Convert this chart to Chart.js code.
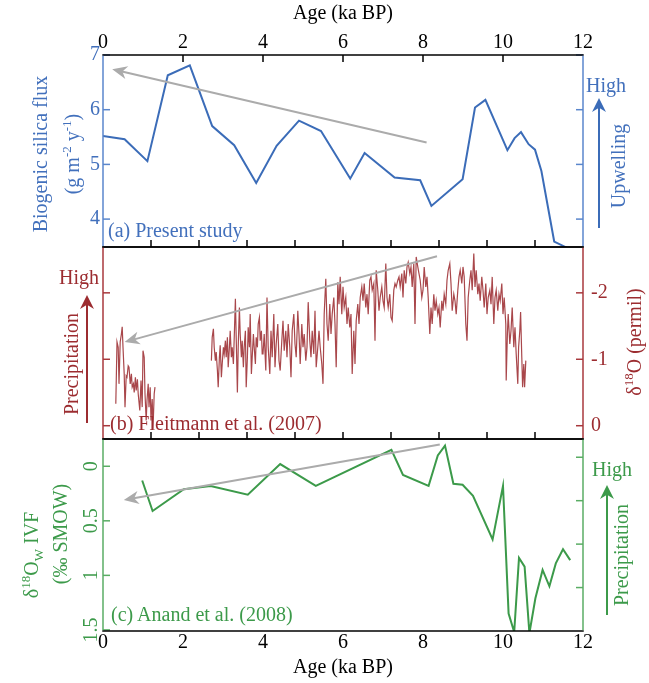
<!DOCTYPE html>
<html>
<head>
<meta charset="utf-8">
<title>Biogenic silica flux and monsoon proxies</title>
<script src="https://cdn.jsdelivr.net/npm/chart.js@4.4.1/dist/chart.umd.min.js"></script>
<style>
  body { margin: 0; background: #fff; }
  #fig { position: relative; width: 649px; height: 683px; font-family: "Liberation Serif", "Times New Roman", serif; font-size: 20px; }
  .pane { position: absolute; left: 0; width: 649px; }
  .t { position: absolute; white-space: nowrap; line-height: 1; transform: translate(-50%, -50%); }
  .t.r { transform: translate(-50%, -50%) rotate(-90deg); }
  .t.l { transform: translate(0, -50%); }
  sup, sub { font-size: 13px; line-height: 0; }
  .blue { color: #4270bc; }
  .red { color: #9c2c30; }
  .green { color: #3c9a4a; }
</style>
</head>
<body>
<div id="fig">
  <div class="pane" style="top:0;height:249px"><canvas id="chart-a"></canvas></div>
  <div class="pane" style="top:246px;height:195px"><canvas id="chart-b"></canvas></div>
  <div class="pane" style="top:438px;height:245px"><canvas id="chart-c"></canvas></div>

  <div class="t r blue" style="left:40px;top:154px">Biogenic silica flux</div>
  <div class="t r blue" style="left:72px;top:154px">(g m<sup>-2</sup> y<sup>-1</sup>)</div>
  <div class="t l blue" style="left:108px;top:230px">(a) Present study</div>
  <div class="t blue" style="left:606px;top:85px">High</div>
  <div class="t r blue" style="left:618px;top:166px">Upwelling</div>

  <div class="t red" style="left:79px;top:277px">High</div>
  <div class="t r red" style="left:71px;top:364px">Precipitation</div>
  <div class="t r red" style="left:634px;top:342px">&delta;<sup>18</sup>O (permil)</div>
  <div class="t l red" style="left:110px;top:423px">(b) Fleitmann et al. (2007)</div>

  <div class="t r green" style="left:31px;top:555px">&delta;<sup>18</sup>O<sub>W</sub> IVF</div>
  <div class="t r green" style="left:60px;top:534px">(&permil; SMOW)</div>
  <div class="t green" style="left:612px;top:469px">High</div>
  <div class="t r green" style="left:621px;top:555px">Precipitation</div>
  <div class="t l green" style="left:111px;top:614px">(c) Anand et al. (2008)</div>
</div>
<script>
// (a) biogenic silica flux, present study
const bsiAge = [0, 0.54, 1.11, 1.62, 2.17, 2.73, 3.28, 3.83, 4.34, 4.90, 5.45, 6.18, 6.54, 7.29,
  7.93, 8.21, 8.99, 9.30, 9.56, 10.11, 10.29, 10.45, 10.64, 10.80, 10.96, 11.28, 11.59];
const bsiFlux = [5.52, 5.46, 5.06, 6.63, 6.81, 5.70, 5.35, 4.66, 5.34, 5.80, 5.61, 4.74, 5.21, 4.76,
  4.71, 4.24, 4.73, 6.04, 6.18, 5.26, 5.48, 5.59, 5.37, 5.27, 4.88, 3.59, 3.48];

// (b) Fleitmann et al. (2007), late Holocene piece
const qunfAgeLate = [0.32, 0.35, 0.38, 0.40, 0.43, 0.46, 0.48, 0.50, 0.53, 0.55, 0.58, 0.60, 0.63,
  0.65, 0.68, 0.71, 0.73, 0.76, 0.78, 0.81, 0.83, 0.86, 0.88, 0.92, 0.95, 0.98, 1.00, 1.03, 1.05,
  1.08, 1.10, 1.13, 1.15, 1.18, 1.20, 1.23, 1.25, 1.28, 1.30];
const qunfD18OLate = [-0.33, -1.26, -1.18, -0.63, -1.26, -1.38, -1.49, -1.18, -0.78, -0.28, -0.75,
  -0.73, -0.90, -0.88, -0.63, -0.78, -0.58, -0.63, -0.50, -0.73, -0.53, -0.70, -0.48, -0.23, -0.68,
  -0.28, -1.13, -1.03, -0.48, -0.08, -0.38, -0.63, -0.28, -0.58, -0.08, -0.40, 0.05, -0.48, -0.58];

// (b) Fleitmann et al. (2007), main piece
const qunfAge = [
  2.71, 2.73, 2.76, 2.78, 2.81, 2.83, 2.86, 2.88, 2.91, 2.93, 2.96, 2.98,
  3.01, 3.03, 3.06, 3.08, 3.11, 3.13, 3.16, 3.18, 3.21, 3.23, 3.26, 3.28, 3.31, 3.33, 3.36, 3.38,
  3.41, 3.43, 3.46, 3.48, 3.51, 3.53, 3.56, 3.58, 3.61, 3.63, 3.66, 3.68, 3.71, 3.73, 3.76, 3.78,
  3.81, 3.83, 3.86, 3.88, 3.91, 3.93, 3.96, 3.98,
  4.00, 4.03, 4.07, 4.10, 4.13, 4.17, 4.20, 4.23, 4.27, 4.30, 4.33, 4.37, 4.40, 4.43, 4.47, 4.50,
  4.53, 4.57, 4.60, 4.63, 4.67, 4.70, 4.73, 4.77, 4.80, 4.83, 4.87, 4.90, 4.93, 4.97,
  5.00, 5.03, 5.07, 5.10, 5.13, 5.17, 5.20, 5.23, 5.27, 5.30, 5.33, 5.37, 5.40, 5.43, 5.47, 5.50,
  5.53, 5.57, 5.60, 5.63, 5.67, 5.70, 5.73, 5.77, 5.80, 5.83, 5.87, 5.90, 5.93, 5.97,
  6.00, 6.03, 6.07, 6.10, 6.13, 6.17, 6.20, 6.23, 6.27, 6.30, 6.33, 6.37, 6.40, 6.43, 6.47, 6.50,
  6.53, 6.57, 6.60, 6.63, 6.67, 6.70, 6.73, 6.77, 6.80, 6.83, 6.87, 6.90, 6.93, 6.97,
  7.00, 7.03, 7.07, 7.10, 7.13, 7.17, 7.20, 7.23, 7.27, 7.30, 7.33, 7.37, 7.40, 7.43, 7.47, 7.50,
  7.53, 7.57, 7.60, 7.63, 7.67, 7.70, 7.73, 7.77, 7.80, 7.83, 7.87, 7.90, 7.93, 7.97,
  8.00, 8.03, 8.07, 8.10, 8.13, 8.17, 8.20, 8.23, 8.27, 8.30, 8.33, 8.37, 8.40, 8.43, 8.47, 8.50,
  8.53, 8.57, 8.60, 8.63, 8.67, 8.70, 8.73, 8.77, 8.80, 8.83, 8.87, 8.90, 8.93, 8.97,
  9.00, 9.03, 9.07, 9.10, 9.13, 9.17, 9.20, 9.23, 9.27, 9.30, 9.33, 9.37, 9.40, 9.43, 9.47, 9.50,
  9.53, 9.57, 9.60, 9.63, 9.67, 9.70, 9.73, 9.77, 9.80, 9.83, 9.87, 9.90, 9.93, 9.97,
  10.00, 10.03, 10.07, 10.08, 10.11, 10.13, 10.17, 10.20, 10.23, 10.27, 10.30, 10.33, 10.37, 10.39,
  10.42, 10.44, 10.47, 10.49, 10.52, 10.54, 10.57];
const qunfD18O = [
  -0.98, -1.33, -1.46, -1.18, -0.98, -1.11, -0.83, -0.58, -1.03, -1.21, -0.73, -0.93,
  -1.18, -1.08, -1.28, -1.03, -1.33, -0.88, -1.18, -1.43, -1.03, -1.18, -0.93, -1.31, -1.91, -1.33,
  -0.50, -1.18, -1.78, -1.38, -1.03, -1.28, -0.88, -1.18, -1.43, -0.58, -1.03, -1.48, -1.18, -1.68,
  -0.78, -1.03, -1.38, -1.18, -0.93, -1.33, -1.18, -1.53, -1.63, -1.28, -1.43, -1.08,
  -1.08, -1.38, -0.83, -1.93, -1.18, -0.78, -1.43, -1.03, -1.68, -0.88,
  -1.23, -1.53, -0.98, -0.83, -1.28, -1.58, -1.13, -1.43, -1.03, -1.53,
  -1.18, -0.73, -1.43, -1.68, -1.23, -1.03, -1.73, -1.38, -0.93, -1.53,
  -1.18, -1.38, -0.98, -1.18, -1.86, -1.28, -1.03, -1.43, -1.08, -1.73,
  -0.88, -1.18, -1.43, -1.18, -0.93, -0.63, -1.68, -2.21, -1.53, -1.28,
  -1.83, -1.38, -1.68, -1.93, -1.53, -0.88, -2.16, -1.83, -2.24, -1.68,
  -2.09, -1.78, -1.93, -1.53, -1.78, -1.48, -1.68, -0.78, -1.43, -0.93,
  -1.58, -1.83, -1.53, -1.93, -2.09, -1.88, -2.14, -1.78, -1.98, -1.68,
  -2.19, -2.24, -2.04, -2.14, -1.28, -2.34, -2.04, -1.73, -1.93, -2.09,
  -1.88, -1.78, -2.44, -1.93, -1.78, -1.98, -1.63, -1.58, -2.04, -2.14,
  -2.09, -2.19, -2.24, -2.09, -2.29, -1.93, -2.34, -2.14, -2.39, -2.46,
  -2.29, -2.39, -2.09, -2.44, -1.53, -2.54, -2.39, -2.29, -2.19, -1.93,
  -2.04, -2.39, -2.09, -2.24, -1.93, -1.38, -1.78, -1.53, -1.98, -1.73,
  -1.88, -1.68, -1.78, -1.48, -1.88, -1.73, -1.98, -1.83, -2.19, -2.34,
  -2.44, -2.14, -1.73, -1.98, -1.88, -1.68, -2.04, -2.24, -2.34, -2.14,
  -2.39, -2.24, -1.53, -1.28, -1.93, -2.19, -2.34, -2.04, -2.59, -2.09,
  -2.34, -1.98, -2.14, -1.88, -2.24, -2.04, -1.78, -2.14, -1.68, -1.93,
  -2.04, -1.83, -2.24, -1.53, -1.93, -2.04, -1.73, -1.98, -1.88, -2.14,
  -1.68, -1.93, -1.53, -0.68, -1.38, -1.68, -1.23, -1.43, -1.78, -1.18, -1.48, -1.08, -0.63, -1.18,
  -1.43, -1.71, -1.03, -0.58, -0.93, -0.58, -0.98];

// (c) Anand et al. (2008)
const ivfAge = [0.98, 1.24, 2.02, 2.69, 3.62, 4.43, 5.32, 7.21, 7.50, 8.14, 8.37, 8.55, 8.76, 8.99,
  9.25, 9.74, 10.00, 10.14, 10.28, 10.40, 10.54, 10.66, 10.81, 10.99, 11.16, 11.32, 11.50, 11.68];
const ivfD18Ow = [0.13, 0.41, 0.21, 0.18, 0.26, -0.02, 0.18, -0.15, 0.08, 0.18, -0.10, -0.19, 0.16,
  0.17, 0.27, 0.67, 0.18, 1.35, 1.52, 0.84, 0.92, 1.53, 1.21, 0.95, 1.10, 0.89, 0.76, 0.86];

const ageTicks = [0, 2, 4, 6, 8, 10, 12];
const topInnerTicks = [2, 4, 6, 8, 10];
const minorTicks = [1.2, 2.4, 3.6, 4.8, 6, 7.2, 8.4, 9.6, 10.8];
const bsiTicks = [4, 5, 6, 7];
const qunfTicks = [-2, -1, 0];
const ivfTicks = [0, 0.5, 1, 1.5];
const ivfRightTicks = [1, 2, 3, 4];

// trend arrows: [tail age, tail value, head age, head value]
const bsiTrend = [8.09, 5.40, 0.23, 6.74];
const qunfTrend = [8.35, -2.55, 0.54, -1.26];
const ivfTrend = [8.42, -0.20, 0.52, 0.31];

Chart.defaults.font.family = '"Liberation Serif", "Times New Roman", serif';
Chart.defaults.font.size = 20;

const toXY = (xs, ys) => xs.map((x, i) => ({x: x, y: ys[i]}));

function arrowHead(ctx, tx, ty, ang, len, half) {
  const c = Math.cos(ang), s = Math.sin(ang);
  ctx.beginPath();
  ctx.moveTo(tx, ty);
  ctx.lineTo(tx - len * c + half * s, ty - len * s - half * c);
  ctx.lineTo(tx - 0.7 * len * c, ty - 0.7 * len * s);
  ctx.lineTo(tx - len * c - half * s, ty - len * s + half * c);
  ctx.closePath();
  ctx.fill();
}

// frame, inward ticks, trend arrow and the side arrow of each panel
const panelFrame = {
  id: 'panelFrame',
  afterDraw(chart, args, o) {
    const {ctx, chartArea: a, scales} = chart;
    const line = (x1, y1, x2, y2, color, w) => {
      ctx.strokeStyle = color;
      ctx.lineWidth = w;
      ctx.beginPath();
      ctx.moveTo(x1, y1);
      ctx.lineTo(x2, y2);
      ctx.stroke();
    };
    ctx.save();

    const [ax, ay, bx, by] = o.trend;
    const x1 = scales.x.getPixelForValue(ax), y1 = scales.y.getPixelForValue(ay);
    const x2 = scales.x.getPixelForValue(bx), y2 = scales.y.getPixelForValue(by);
    const ang = Math.atan2(y2 - y1, x2 - x1);
    ctx.lineCap = 'butt';
    line(x1, y1, x2 - 10 * Math.cos(ang), y2 - 10 * Math.sin(ang), '#ababab', 2);
    ctx.fillStyle = '#ababab';
    arrowHead(ctx, x2, y2, ang, 15, 6.5);

    o.topTicks.forEach(v => {
      const px = scales.x.getPixelForValue(v);
      line(px, a.top, px, a.top + 7, '#000', 1.5);
    });
    o.bottomTicks.forEach(v => {
      const px = scales.x.getPixelForValue(v);
      line(px, a.bottom, px, a.bottom - 7, '#000', 1.5);
    });
    scales.y.ticks.forEach(t => {
      const py = scales.y.getPixelForValue(t.value);
      line(a.left, py, a.left + 7, py, o.axisColor, 1.5);
    });
    scales.y2.ticks.forEach(t => {
      const py = scales.y2.getPixelForValue(t.value);
      line(a.right, py, a.right - 7, py, o.axisColor, 1.5);
    });

    line(a.left - 0.75, a.top, a.right + 0.75, a.top, '#000', 1.5);
    line(a.left - 0.75, a.bottom, a.right + 0.75, a.bottom, '#000', 1.5);
    line(a.left, a.top + 0.75, a.left, a.bottom - 0.75, o.axisColor, 1.5);
    line(a.right, a.top + 0.75, a.right, a.bottom - 0.75, o.axisColor, 1.5);

    const sa = o.side;
    line(sa.x, sa.bottom, sa.x, sa.top + 8, o.arrowColor, 2);
    ctx.fillStyle = o.arrowColor;
    arrowHead(ctx, sa.x, sa.top, Math.PI / -2, 14, 7);
    ctx.restore();
  }
};

function makePanel(id, p) {
  const flat = {display: false, drawTicks: false};
  return new Chart(id, {
    type: 'line',
    data: {
      datasets: p.series.map(s => ({
        data: s,
        borderColor: p.lineColor,
        borderWidth: p.lineWidth,
        pointRadius: 0,
        tension: 0,
        fill: false
      }))
    },
    options: {
      responsive: true,
      maintainAspectRatio: false,
      animation: false,
      events: [],
      layout: {autoPadding: false, padding: p.padding},
      plugins: {
        legend: {display: false},
        tooltip: {enabled: false},
        panelFrame: {
          trend: p.trend,
          topTicks: p.topTicks,
          bottomTicks: p.bottomTicks,
          axisColor: p.axisColor,
          arrowColor: p.arrowColor,
          side: p.side
        }
      },
      scales: {
        x: {
          type: 'linear',
          min: 0,
          max: 12,
          display: p.xPos !== 'none',
          position: p.xPos === 'top' ? 'top' : 'bottom',
          afterBuildTicks: s => { s.ticks = ageTicks.map(v => ({value: v})); },
          afterFit: s => { s.height = p.xHeight; s.paddingLeft = 0; s.paddingRight = 0; },
          grid: flat,
          border: {display: false},
          ticks: {color: '#000', padding: 0, maxRotation: 0, autoSkip: false, callback: v => String(v)},
          title: {display: true, text: 'Age (ka BP)', color: '#000', padding: {top: 2, bottom: 3}}
        },
        y: {
          type: 'linear',
          position: 'left',
          min: p.yMin,
          max: p.yMax,
          reverse: p.reverse,
          afterBuildTicks: s => { s.ticks = p.leftTicks.map(v => ({value: v})); },
          afterFit: s => { s.width = 103; s.paddingTop = 0; s.paddingBottom = 0; },
          grid: flat,
          border: {display: false},
          ticks: Object.assign({display: p.leftLabels, color: p.tickColor, padding: 3, callback: v => String(v)}, p.leftTickStyle)
        },
        y2: {
          type: 'linear',
          position: 'right',
          min: p.y2Min,
          max: p.y2Max,
          reverse: p.y2Reverse,
          afterBuildTicks: s => { s.ticks = p.rightTicks.map(v => ({value: v})); },
          afterFit: s => { s.width = 66; s.paddingTop = 0; s.paddingBottom = 0; },
          grid: flat,
          border: {display: false},
          ticks: {display: p.rightLabels, color: p.tickColor, padding: 8, callback: v => String(v)}
        }
      }
    },
    plugins: [panelFrame]
  });
}

makePanel('chart-a', {
  series: [toXY(bsiAge, bsiFlux)],
  lineColor: '#3b6cb8', lineWidth: 2,
  axisColor: '#5a86cc', tickColor: '#4270bc', arrowColor: '#3b6cb8',
  padding: {top: 0, bottom: 2, left: 0, right: 0},
  xPos: 'top', xHeight: 55,
  yMin: 3.49, yMax: 7, reverse: false, leftTicks: bsiTicks, leftLabels: true, leftTickStyle: {},
  y2Min: 3.49, y2Max: 7, y2Reverse: false, rightTicks: bsiTicks, rightLabels: false,
  trend: bsiTrend, topTicks: topInnerTicks, bottomTicks: minorTicks,
  side: {x: 599, top: 98, bottom: 228}
});

makePanel('chart-b', {
  series: [toXY(qunfAgeLate, qunfD18OLate), toXY(qunfAge, qunfD18O)],
  lineColor: '#a9474b', lineWidth: 1.2,
  axisColor: '#a8393d', tickColor: '#9c2c30', arrowColor: '#9c2c30',
  padding: {top: 1, bottom: 2, left: 0, right: 0},
  xPos: 'none', xHeight: 0,
  yMin: -2.69, yMax: 0.2, reverse: true, leftTicks: qunfTicks, leftLabels: false, leftTickStyle: {},
  y2Min: -2.69, y2Max: 0.2, y2Reverse: true, rightTicks: qunfTicks, rightLabels: true,
  trend: qunfTrend, topTicks: [], bottomTicks: minorTicks,
  side: {x: 87, top: 49, bottom: 177}
});

makePanel('chart-c', {
  series: [toXY(ivfAge, ivfD18Ow)],
  lineColor: '#3c9a4a', lineWidth: 2,
  axisColor: '#5aad64', tickColor: '#3c9a4a', arrowColor: '#3c9a4a',
  padding: {top: 1, bottom: 0, left: 0, right: 0},
  xPos: 'bottom', xHeight: 52,
  yMin: -0.25, yMax: 1.51, reverse: true, leftTicks: ivfTicks, leftLabels: true,
  leftTickStyle: {minRotation: 90, maxRotation: 90, crossAlign: 'center', padding: -1},
  y2Min: 0, y2Max: 4.42, y2Reverse: false, rightTicks: ivfRightTicks, rightLabels: false,
  trend: ivfTrend, topTicks: [], bottomTicks: [],
  side: {x: 607, top: 47, bottom: 177}
});
</script>
</body>
</html>
